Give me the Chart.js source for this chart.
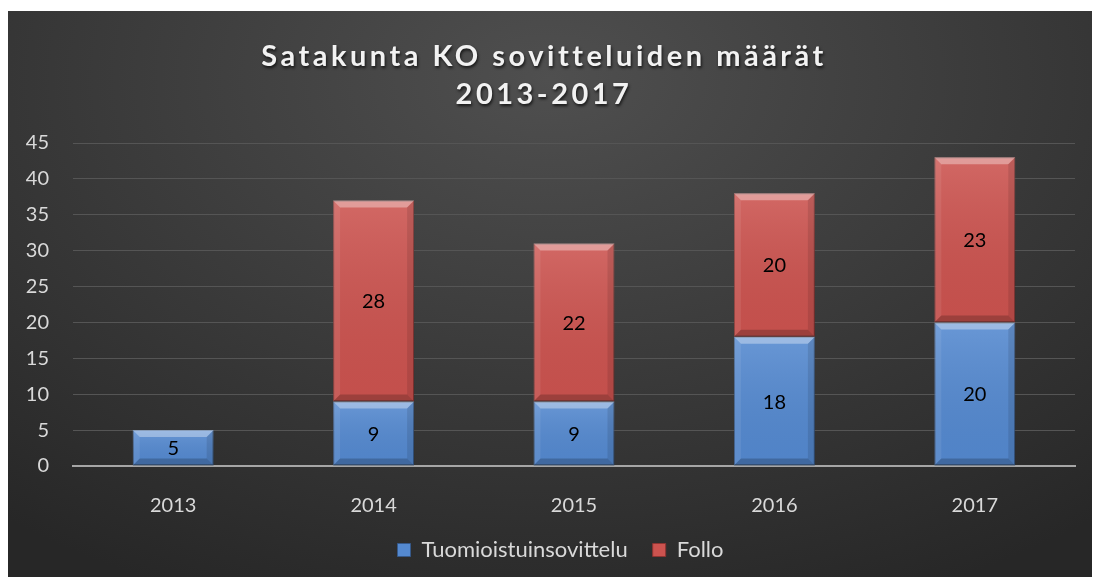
<!DOCTYPE html>
<html>
<head>
<meta charset="utf-8">
<script src="https://cdn.jsdelivr.net/npm/chart.js@4.4.0/dist/chart.umd.min.js"></script>
<style>
  body { margin: 0; background: #fff; }
  #wrap {
    position: absolute; left: 8px; top: 11px; width: 1084px; height: 566px;
    background: radial-gradient(ellipse 80% 100% at 50% 12%, #4f4f4f 0%, #3b3b3b 50%, #272727 100%);
  }
</style>
</head>
<body>
<div id="wrap"><canvas id="myChart"></canvas></div>
<script>
var years = ["2013", "2014", "2015", "2016", "2017"];
var tuomioistuin = [5, 9, 9, 18, 20];
var follo = [null, 28, 22, 20, 23];
var titleLines = ["Satakunta KO sovitteluiden määrät", "2013-2017"];

var FONT = "Lato, 'Open Sans', sans-serif";

// title with letter spacing + shadow
var titlePlugin = {
  id: "excelTitle",
  afterDraw: function (chart) {
    var ctx = chart.ctx;
    ctx.save();
    ctx.font = "bold 29px " + FONT;
    ctx.letterSpacing = "3.5px";
    ctx.textAlign = "center";
    ctx.textBaseline = "middle";
    ctx.fillStyle = "#f2f2f2";
    ctx.shadowColor = "rgba(0,0,0,0.7)";
    ctx.shadowBlur = 3;
    ctx.shadowOffsetX = 1;
    ctx.shadowOffsetY = 2;
    var cx = chart.width / 2 - 6;
    ctx.fillText(titleLines[0], cx, 46);
    ctx.fillText(titleLines[1], cx, 84);
    ctx.restore();
  },
  // legend sits a bit right of centre in the original
  afterLayout: function (chart) {
    chart.legend.left += 24;
  }
};

// bevel look on the bars
var bevelPlugin = {
  id: "bevel",
  afterDatasetsDraw: function (chart) {
    var ctx = chart.ctx;
    ctx.save();
    chart.data.datasets.forEach(function (ds, i) {
      var meta = chart.getDatasetMeta(i);
      meta.data.forEach(function (bar, j) {
        if (ds.data[j] == null) return;
        var p = bar.getProps(["x", "y", "base", "width"], true);
        var l = p.x - p.width / 2, r = p.x + p.width / 2;
        var t = Math.min(p.y, p.base), b = Math.max(p.y, p.base);
        var k = Math.min(7, (b - t) / 3);
        var g = ctx.createLinearGradient(0, t, 0, b);
        g.addColorStop(0, "rgba(255,255,255,0.12)");
        g.addColorStop(1, "rgba(0,0,0,0.04)");
        ctx.fillStyle = g;
        ctx.fillRect(l, t, r - l, b - t);
        function poly(pts, c) {
          ctx.beginPath();
          ctx.moveTo(pts[0], pts[1]);
          for (var n = 2; n < pts.length; n += 2) ctx.lineTo(pts[n], pts[n + 1]);
          ctx.closePath();
          ctx.fillStyle = c;
          ctx.fill();
        }
        poly([l, t, r, t, r - k, t + k, l + k, t + k], "rgba(255,255,255,0.35)");
        poly([l, t, l + k, t + k, l + k, b - k, l, b], "rgba(255,255,255,0.08)");
        poly([r, t, r - k, t + k, r - k, b - k, r, b], "rgba(0,0,0,0.10)");
        poly([l, b, l + k, b - k, r - k, b - k, r, b], "rgba(0,0,0,0.2)");
      });
    });
    ctx.restore();
  }
};

// value labels in the middle of each segment
var labelPlugin = {
  id: "barLabels",
  afterDatasetsDraw: function (chart) {
    var ctx = chart.ctx;
    ctx.save();
    ctx.font = "20px " + FONT;
    ctx.fillStyle = "#000";
    ctx.textAlign = "center";
    ctx.textBaseline = "middle";
    chart.data.datasets.forEach(function (ds, i) {
      chart.getDatasetMeta(i).data.forEach(function (bar, j) {
        if (ds.data[j] == null) return;
        var p = bar.getProps(["x", "y", "base"], true);
        ctx.fillText(ds.data[j], p.x, (p.y + p.base) / 2 + 1);
      });
    });
    ctx.restore();
  }
};

var ctx = document.getElementById("myChart").getContext("2d");
var myChart = new Chart(ctx, {
  type: "bar",
  data: {
    labels: years,
    datasets: [
      {
        label: "Tuomioistuinsovittelu",
        data: tuomioistuin,
        backgroundColor: "#5489d0",
        borderColor: "#36598a",
        borderWidth: 1,
        borderSkipped: false
      },
      {
        label: "Follo",
        data: follo,
        backgroundColor: "#cc534f",
        borderColor: "#8e3532",
        borderWidth: 1,
        borderSkipped: false
      }
    ]
  },
  options: {
    responsive: true,
    maintainAspectRatio: false,
    animation: false,
    datasets: { bar: { barPercentage: 0.404, categoryPercentage: 1 } },
    layout: { padding: { top: 132, left: 14, right: 17, bottom: 6 } },
    plugins: {
      title: { display: false },
      tooltip: { enabled: false },
      legend: {
        position: "bottom",
        labels: {
          color: "#d9d9d9",
          font: { family: FONT, size: 22 },
          boxWidth: 13,
          boxHeight: 13,
          padding: 25
        }
      }
    },
    scales: {
      x: {
        stacked: true,
        grid: { display: false, drawTicks: false },
        border: { color: "#a6a6a6", width: 2 },
        ticks: { color: "#d9d9d9", font: { family: FONT, size: 20 }, padding: 28 },
        afterFit: function (scale) { scale.height = 48; }
      },
      y: {
        stacked: true,
        min: 0,
        max: 45,
        border: { display: false },
        grid: { color: "#555555", lineWidth: 1, drawTicks: false },
        ticks: { stepSize: 5, color: "#d9d9d9", font: { family: FONT, size: 20 }, padding: 24 },
        afterFit: function (scale) { scale.width = 51; }
      }
    }
  },
  plugins: [titlePlugin, bevelPlugin, labelPlugin]
});
</script>
</body>
</html>
